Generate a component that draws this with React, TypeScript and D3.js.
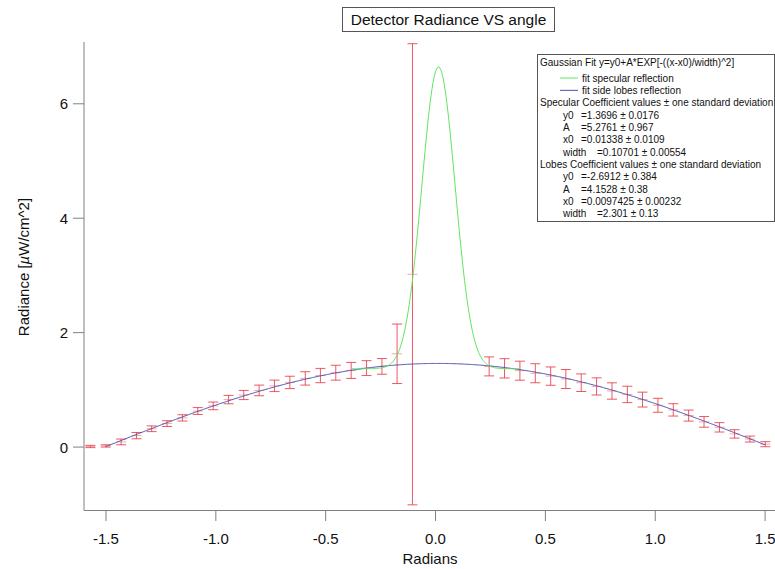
import React from "react";
import * as d3 from "d3";

// ---- data ----
const angleRad = [
  -1.571, -1.501, -1.431, -1.361, -1.292, -1.222, -1.152, -1.082, -1.012, -0.942, -0.873,
  -0.803, -0.733, -0.663, -0.593, -0.524, -0.454, -0.384, -0.314, -0.244, -0.175, -0.105,
  0.244, 0.314, 0.384, 0.454, 0.524, 0.593, 0.663, 0.733, 0.803, 0.873, 0.942, 1.012,
  1.082, 1.152, 1.222, 1.292, 1.361, 1.431, 1.501,
];
const radiance = [
  0.01, 0.02, 0.09, 0.2, 0.32, 0.41, 0.51, 0.63, 0.72, 0.83, 0.91,
  0.99, 1.07, 1.13, 1.2, 1.25, 1.3, 1.34, 1.38, 1.41, 1.63, 3.02,
  1.41, 1.376, 1.335, 1.29, 1.24, 1.19, 1.125, 1.06, 0.98, 0.92, 0.83, 0.73,
  0.65, 0.55, 0.44, 0.345, 0.23, 0.14, 0.05,
];
const radianceErr = [
  0.02, 0.02, 0.05, 0.055, 0.05, 0.05, 0.055, 0.06, 0.067, 0.073, 0.08,
  0.093, 0.1, 0.108, 0.117, 0.125, 0.13, 0.14, 0.13, 0.137, 0.52, 4.03,
  0.166, 0.169, 0.166, 0.166, 0.16, 0.166, 0.154, 0.15, 0.143, 0.143, 0.13, 0.122,
  0.108, 0.096, 0.093, 0.082, 0.073, 0.052, 0.044,
];

// Gaussian fit coefficients [y0, A, x0, width] from the legend
const specularCoef = [1.3696, 5.2761, 0.01338, 0.10701];
const lobesCoef = [-2.6912, 4.1528, 0.0097425, 2.301];
const specularRange = [-0.38, 0.38];
const lobesRange = [-1.5, 1.5];

const xTicks = [-1.5, -1.0, -0.5, 0.0, 0.5, 1.0, 1.5];
const yTicks = [0, 2, 4, 6];

const legendLines = [
  "Gaussian Fit y=y0+A*EXP[-((x-x0)/width)^2]",
  "fit specular reflection",
  "fit side lobes reflection",
  "Specular Coefficient values \u00b1 one standard deviation",
  ["y0", "=1.3696 \u00b1 0.0176"],
  ["A", "=5.2761 \u00b1 0.967"],
  ["x0", "=0.01338 \u00b1 0.0109"],
  ["width", "=0.10701 \u00b1 0.00554"],
  "Lobes Coefficient values \u00b1 one standard deviation",
  ["y0", "=-2.6912 \u00b1 0.384"],
  ["A", "=4.1528 \u00b1 0.38"],
  ["x0", "=0.0097425 \u00b1 0.00232"],
  ["width", "=2.301 \u00b1 0.13"],
];

const W = 775;
const H = 569;
const FONT = "'Liberation Sans', Arial, sans-serif";

function gauss(c: number[], x: number) {
  return c[0] + c[1] * Math.exp(-Math.pow((x - c[2]) / c[3], 2));
}

export default function App() {
  const x = d3.scaleLinear().domain([-1.6, 1.545]).range([84, 775]);
  const y = d3.scaleLinear().domain([-1.1, 7.08]).range([510, 42]);

  const fitPath = (c: number[], r: number[]) => {
    const xs = d3.range(r[0], r[1] + 1e-9, 0.004);
    return d3
      .line<number>()
      .x((d) => x(d))
      .y((d) => y(gauss(c, d)))(xs) as string;
  };

  const axisColor = "#808080";
  const errColor = "rgba(232,60,70,0.85)";
  const markColor = "rgba(240,110,110,0.6)";
  const green = "#5fe65f";
  const blue = "#4d4db0";
  const cap = 5;

  const legX = 537;
  const legY = 54;
  const legW = 237;
  const legH = 167;

  const rows: React.ReactNode[] = [];
  legendLines.forEach((ln, i) => {
    const by = i === 0 ? 66 : 81.5 + (i - 1) * 12.35;
    if (i === 1 || i === 2) {
      rows.push(
        <g key={i}>
          <line x1={560} x2={578} y1={by - 3.5} y2={by - 3.5} stroke={i === 1 ? green : blue} strokeWidth={1} />
          <text x={582} y={by} fontSize={10} fontFamily={FONT} fill="#111">
            {ln as string}
          </text>
        </g>
      );
    } else if (Array.isArray(ln)) {
      const valX = ln[0] === "width" ? 597 : 581;
      rows.push(
        <g key={i}>
          <text x={563} y={by} fontSize={10} fontFamily={FONT} fill="#111">
            {ln[0]}
          </text>
          <text x={valX} y={by} fontSize={10} fontFamily={FONT} fill="#111">
            {ln[1]}
          </text>
        </g>
      );
    } else {
      rows.push(
        <text key={i} x={540} y={by} fontSize={10} fontFamily={FONT} fill="#111">
          {ln}
        </text>
      );
    }
  });

  return (
    <svg
      width={W}
      height={H}
      style={{ position: "absolute", left: 0, top: 0, background: "#fff" }}
    >
      {/* title */}
      <rect x={342.5} y={7.5} width={212} height={24} fill="#fff" stroke="#555" strokeWidth={1} />
      <text x={448.5} y={25} textAnchor="middle" fontSize={15.5} fontFamily={FONT} fill="#111">
        Detector Radiance VS angle
      </text>

      {/* error bars */}
      {angleRad.map((a, i) => {
        const cx = x(a);
        const v = radiance[i];
        const e = radianceErr[i];
        const yt = y(v + e);
        const yb = y(v - e);
        const yc = y(v);
        return (
          <g key={i}>
            <line x1={cx} x2={cx} y1={yt} y2={yb} stroke={errColor} strokeWidth={1} />
            <line x1={cx - cap} x2={cx + cap} y1={yt} y2={yt} stroke={errColor} strokeWidth={1} />
            <line x1={cx - cap} x2={cx + cap} y1={yb} y2={yb} stroke={errColor} strokeWidth={1} />
            <line x1={cx - cap} x2={cx + cap} y1={yc} y2={yc} stroke={markColor} strokeWidth={1} />
          </g>
        );
      })}

      {/* fit curves */}
      <path d={fitPath(lobesCoef, lobesRange)} fill="none" stroke={blue} strokeWidth={1} />
      <path d={fitPath(specularCoef, specularRange)} fill="none" stroke={green} strokeWidth={1} />

      {/* axes */}
      <line x1={84} x2={84} y1={42} y2={510.5} stroke={axisColor} strokeWidth={1} />
      <line x1={84} x2={775} y1={510.5} y2={510.5} stroke={axisColor} strokeWidth={1} />
      {xTicks.map((t) => (
        <g key={t}>
          <line x1={x(t)} x2={x(t)} y1={510.5} y2={521} stroke={axisColor} strokeWidth={1} />
          <text x={x(t)} y={544} textAnchor="middle" fontSize={15} fontFamily={FONT} fill="#111">
            {t.toFixed(1)}
          </text>
        </g>
      ))}
      {yTicks.map((t) => (
        <g key={t}>
          <line x1={73} x2={84} y1={y(t)} y2={y(t)} stroke={axisColor} strokeWidth={1} />
          <text x={68} y={y(t) + 5.5} textAnchor="end" fontSize={15} fontFamily={FONT} fill="#111">
            {t}
          </text>
        </g>
      ))}
      <text x={430} y={564} textAnchor="middle" fontSize={15} fontFamily={FONT} fill="#111">
        Radians
      </text>
      <text
        transform="translate(29,267) rotate(-90)"
        textAnchor="middle"
        fontSize={15}
        fontFamily={FONT}
        fill="#111"
      >
        Radiance [<tspan fontStyle="italic">µ</tspan>W/cm^2]
      </text>

      {/* legend */}
      <rect x={legX + 0.5} y={legY + 0.5} width={legW} height={legH} fill="#fff" stroke="#555" strokeWidth={1} />
      {rows}
    </svg>
  );
}
